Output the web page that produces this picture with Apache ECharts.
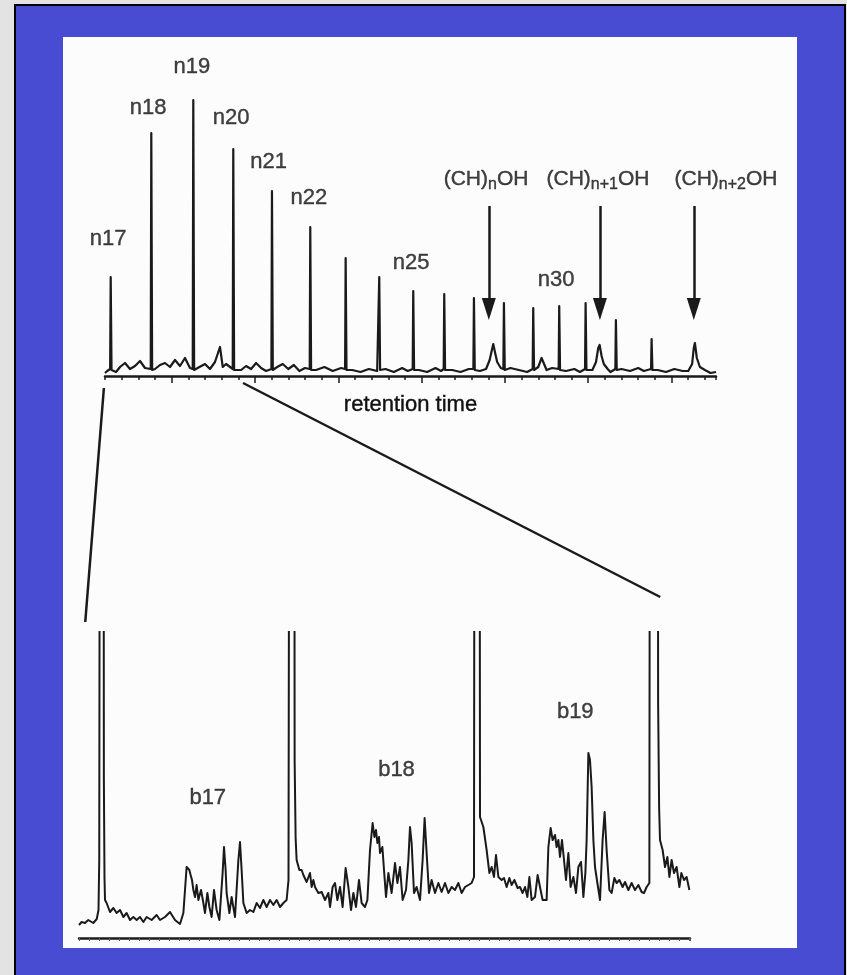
<!DOCTYPE html>
<html>
<head>
<meta charset="utf-8">
<title>retention time</title>
<script src="https://cdn.jsdelivr.net/npm/echarts@6.0.0/dist/echarts.min.js"></script>
<style>
  html, body { margin: 0; padding: 0; width: 847px; height: 975px; overflow: hidden; background: #e3e3e3; }
  #frame { position: absolute; left: 14px; top: 4px; width: 828px; height: 1000px; background: #474cd3; border: 2px solid #000; border-bottom: none; }
  #paper { position: absolute; left: 63px; top: 37px; width: 734px; height: 911px; background: #fcfcfc; }
  #main { position: absolute; left: 0; top: 0; width: 847px; height: 975px; }
</style>
</head>
<body>
<div id="frame"></div>
<div id="paper"></div>
<div id="main"></div>
<script>
// top chromatogram: retention time (s) vs detector signal (arbitrary units)
const topPeakTimes = [20.5, 166.7, 317.9, 461.9, 601.2, 739.1, 866.5, 987.5, 1109.9, 1221.5, 1328.4, 1436.4, 1541.9, 1635.5, 1730.5, 1839.6, 1968.1];
const topPeakHeights = [99, 243, 276, 227, 185, 149, 118, 99, 85, 82, 78, 73, 68, 70, 73, 56, 37];
// baseline noise and the three broad alcohol bumps
const topBaseline = [
  [0, 3], [8, 5], [14, 4], [30, 8], [40, 4], [54, 9], [72, 13], [90, 7], [108, 10], [126, 15], [144, 8],
  [180, 7], [198, 11], [216, 13], [234, 9], [252, 16], [270, 10], [288, 18], [306, 8], [340, 9], [360, 12],
  [378, 7], [396, 14], [414, 29], [424, 9], [436, 12], [470, 8], [490, 6], [508, 10], [526, 7], [544, 13],
  [562, 8], [580, 5], [620, 9], [640, 12], [660, 7], [680, 11], [700, 5], [720, 8], [760, 6], [790, 9],
  [820, 5], [850, 8], [890, 6], [920, 4], [950, 7], [980, 5], [1010, 7], [1040, 4], [1070, 8], [1090, 5],
  [1130, 6], [1160, 4], [1190, 8], [1210, 5], [1250, 6], [1280, 4], [1310, 7], [1350, 5],
  [1372, 7], [1385, 16], [1393, 26], [1398, 32], [1404, 24], [1412, 14], [1425, 8],
  [1460, 8], [1490, 6], [1520, 4], [1560, 9], [1572, 18], [1590, 6], [1610, 8], [1660, 5], [1690, 7],
  [1710, 4], [1755, 6], [1768, 14], [1776, 28], [1781, 31], [1788, 20], [1796, 12], [1810, 7],
  [1820, 4], [1860, 7], [1890, 5], [1920, 8], [1940, 5], [1990, 6], [2020, 4], [2050, 7], [2080, 5],
  [2100, 5], [2114, 12], [2120, 28], [2124, 33], [2131, 18], [2142, 9], [2160, 6], [2180, 3], [2200, 4]
];
const topMajorTicks = [240, 540, 840, 1140, 1440, 1740, 2040];

const topLabels = ['n17', 'n18', 'n19', 'n20', 'n21', 'n22', 'n25', 'n30'];
const topLabelTimes = [11, 155, 313, 454, 589, 734, 1102, 1624];
const topLabelLevels = [137, 268, 309, 258, 214, 178, 113, 96];

const alcoholSubs = ['n', 'n+1', 'n+2'];
const alcoholLabelTimes = [1372, 1775, 2236];
const alcoholLabelLevel = 195;
const arrowTimes = [1382, 1782, 2120];
const arrowFrom = 170;
const arrowTo = 67;

// expanded region (first ~490 s), same time units
const bottomTrace = [
  [0, 13], [2.1, 16], [4.8, 15], [7.4, 18], [11.4, 15], [14.2, 19], [15.6, 28], [16.2, 78],
  [16.8, 700], [19.6, 700], [19.9, 158], [20.4, 60], [20.8, 38],
  [22.1, 35], [24.8, 26], [27.5, 30], [30.1, 25], [32.8, 28], [35.5, 21], [38.1, 25], [40.8, 18], [43.5, 21],
  [46.1, 18], [48.8, 21], [51.5, 16], [54.1, 21], [58.1, 18], [62.1, 23], [64.8, 18], [68.8, 21], [72.8, 26],
  [76.8, 18], [80.8, 14], [83.5, 25],
  [86.1, 71], [88.3, 68], [89.3, 63], [90.4, 58], [91.5, 48], [92.8, 41], [94.1, 53], [95.5, 38], [97.6, 48],
  [99.5, 35], [100.8, 25], [102.7, 45], [104.3, 31], [106.1, 21], [108.0, 48], [110.1, 28], [112.3, 18],
  [114.9, 65], [116.0, 91], [117.3, 68], [118.1, 45], [120.3, 25], [122.1, 41], [124.8, 21], [127.5, 78],
  [128.8, 96], [130.1, 68], [131.5, 35], [134.1, 25], [136.8, 28], [139.5, 26], [142.1, 35], [144.8, 30],
  [147.5, 38], [150.1, 31], [152.8, 38], [155.5, 33], [158.1, 38], [160.8, 31], [163.5, 35], [166.1, 38], [167.6, 58],
  [168.4, 700], [172.2, 700], [172.5, 178], [173.3, 100], [174.1, 78], [176.3, 68], [178.1, 68], [179.5, 63],
  [182.1, 56], [184.8, 65], [186.1, 51], [187.5, 58], [188.8, 51], [191.5, 45], [194.1, 46], [196.8, 38],
  [199.5, 45], [200.8, 31], [202.9, 51], [204.8, 55], [206.7, 38], [208.8, 51], [210.9, 31], [213.3, 70],
  [215.5, 51], [217.6, 28], [219.5, 45], [221.6, 31], [224.0, 58], [226.1, 35], [228.8, 31], [230.7, 38],
  [232.8, 88], [234.9, 115], [236.3, 101], [237.6, 108], [238.7, 95], [240.0, 101], [240.8, 85], [242.7, 91],
  [244.0, 68], [245.6, 41], [247.5, 65], [250.1, 45], [252.8, 75], [254.7, 55], [256.8, 71], [258.9, 38],
  [261.6, 48], [263.5, 78], [264.8, 111], [266.1, 95], [268.0, 45], [270.1, 51], [272.8, 38], [274.9, 78],
  [276.5, 120], [278.1, 85], [280.0, 45], [282.1, 58], [284.8, 45], [287.5, 55], [290.1, 46], [292.8, 55],
  [295.5, 45], [298.1, 51], [300.8, 48], [303.5, 55], [306.1, 45], [308.8, 51], [311.5, 53], [314.1, 55], [316.0, 61],
  [316.5, 700], [320.4, 700], [320.8, 121], [323.5, 111], [326.1, 88], [328.3, 65], [330.1, 71], [332.0, 61],
  [333.6, 83], [335.5, 61], [338.1, 58], [340.0, 60], [342.1, 51], [344.3, 60], [346.1, 53], [348.3, 58],
  [350.9, 50], [352.8, 51], [354.9, 45], [356.8, 51], [358.7, 41], [360.3, 61], [362.1, 38], [364.8, 41],
  [366.9, 63], [368.8, 51], [370.9, 38], [374.1, 38], [375.5, 91], [377.3, 110], [378.9, 98], [380.8, 103],
  [382.1, 91], [383.5, 98], [384.8, 81], [386.4, 98], [388.0, 78], [389.6, 58], [391.5, 85], [393.3, 51],
  [395.5, 61], [397.6, 45], [399.5, 71], [401.6, 76], [403.5, 41], [405.1, 65], [406.1, 98], [407.5, 185],
  [408.8, 178], [410.1, 151], [411.5, 98], [412.8, 71], [414.7, 55], [416.8, 38], [418.9, 98], [420.5, 126],
  [422.1, 88], [424.3, 48], [426.1, 45], [428.3, 60], [430.1, 55], [432.3, 58], [434.9, 51], [436.8, 56],
  [439.5, 48], [442.1, 55], [444.8, 48], [447.5, 53], [450.1, 46], [452.0, 45], [454.1, 51], [456.3, 55],
  [456.8, 700], [463.0, 700], [463.3, 235], [464.1, 130], [464.8, 98], [466.9, 88], [468.8, 71], [470.7, 81],
  [472.3, 61], [474.1, 78], [476.0, 65], [478.1, 71], [480.3, 51], [481.9, 65], [484.0, 58], [486.1, 61], [488.3, 48]
];
const bottomLabels = ['b17', 'b18', 'b19'];
const bottomLabelTimes = [103, 254, 397];
const bottomLabelLevels = [140, 168, 226];

// zoom connector ends: top [time, level] -> bottom [time, level]
const zoomFrom = [[-4, -12], [497, -7]];
const zoomTo = [[5, 316], [465, 341]];

const INK = '#1a1a1a';
const TEXT = '#111';
const FONT = '"Liberation Sans", Arial, sans-serif';

function buildTopTrace() {
  const pts = topBaseline.slice();
  topPeakTimes.forEach(function (t, i) {
    pts.push([t - 2, 7], [t, topPeakHeights[i]], [t + 3, 6]);
  });
  return pts.sort(function (a, b) { return a[0] - b[0]; });
}

const chart = echarts.init(document.getElementById('main'), null, { renderer: 'canvas' });

const textLabel = {
  show: true,
  position: 'inside',
  color: TEXT,
  textBorderColor: TEXT,
  textBorderWidth: 0.4,
  fontFamily: FONT,
  fontSize: 22,
  formatter: '{b}'
};

const option = {
  animation: false,
  grid: [
    { left: 105, top: 46, width: 611, height: 330 },
    { left: 79, top: 632, width: 611, height: 306 }
  ],
  xAxis: [
    {
      gridIndex: 0, type: 'value', min: 0, max: 2200, interval: 60,
      axisLine: { lineStyle: { color: INK, width: 2.5 } },
      axisTick: { length: 4, lineStyle: { color: INK, width: 1.5 } },
      axisLabel: { show: false },
      splitLine: { show: false },
      name: 'retention time', nameLocation: 'middle', nameGap: 18,
      nameTextStyle: { color: TEXT, fontFamily: FONT, fontSize: 22, textBorderColor: TEXT, textBorderWidth: 0.4 }
    },
    {
      gridIndex: 0, type: 'value', min: 0, max: 2200, position: 'bottom',
      axisLine: { show: false },
      axisTick: { show: true, length: 7, customValues: topMajorTicks, lineStyle: { color: INK, width: 1.5 } },
      axisLabel: { show: false },
      splitLine: { show: false }
    },
    {
      gridIndex: 1, type: 'value', min: 0, max: 488.8, interval: 8,
      axisLine: { lineStyle: { color: INK, width: 2.5 } },
      axisTick: { length: 3, lineStyle: { color: '#555', width: 1 } },
      axisLabel: { show: false },
      splitLine: { show: false }
    }
  ],
  yAxis: [
    { gridIndex: 0, type: 'value', min: 0, max: 330, show: false },
    { gridIndex: 1, type: 'value', min: 0, max: 306, show: false }
  ],
  series: [
    {
      type: 'line', xAxisIndex: 0, yAxisIndex: 0,
      data: buildTopTrace(),
      showSymbol: false, symbol: 'none',
      lineStyle: { color: INK, width: 2.2, join: 'round' },
      markLine: {
        silent: true,
        symbol: ['none', 'triangle'],
        symbolSize: [14, 22],
        label: { show: false },
        lineStyle: { color: INK, width: 2.5, type: 'solid' },
        data: arrowTimes.map(function (t) {
          return [{ coord: [t, arrowFrom] }, { coord: [t, arrowTo] }];
        })
      }
    },
    {
      type: 'line', xAxisIndex: 2, yAxisIndex: 1,
      data: bottomTrace,
      showSymbol: false, symbol: 'none', clip: true,
      lineStyle: { color: INK, width: 2, join: 'round' }
    },
    {
      type: 'scatter', xAxisIndex: 0, yAxisIndex: 0, clip: false,
      symbolSize: 1, itemStyle: { color: 'rgba(0,0,0,0)' },
      label: textLabel,
      data: topLabels.map(function (s, i) {
        return { name: s, value: [topLabelTimes[i], topLabelLevels[i]] };
      })
    },
    {
      type: 'scatter', xAxisIndex: 0, yAxisIndex: 0, clip: false,
      symbolSize: 1, itemStyle: { color: 'rgba(0,0,0,0)' },
      label: {
        show: true,
        position: 'inside',
        formatter: function (p) { return '{m|(CH)}{s|' + p.name + '}{m|OH}'; },
        rich: {
          m: { color: TEXT, textBorderColor: TEXT, textBorderWidth: 0.4, fontFamily: FONT, fontSize: 21, lineHeight: 24, verticalAlign: 'top' },
          s: { color: TEXT, textBorderColor: TEXT, textBorderWidth: 0.4, fontFamily: FONT, fontSize: 16, lineHeight: 17, padding: [10, 0, 0, 0], verticalAlign: 'bottom' }
        }
      },
      data: alcoholSubs.map(function (s, i) {
        return { name: s, value: [alcoholLabelTimes[i], alcoholLabelLevel] };
      })
    },
    {
      type: 'scatter', xAxisIndex: 2, yAxisIndex: 1, clip: false,
      symbolSize: 1, itemStyle: { color: 'rgba(0,0,0,0)' },
      label: textLabel,
      data: bottomLabels.map(function (s, i) {
        return { name: s, value: [bottomLabelTimes[i], bottomLabelLevels[i]] };
      })
    }
  ]
};

chart.setOption(option);

// lines that tie the expanded window back to the full trace
const connectors = zoomFrom.map(function (p, i) {
  const a = chart.convertToPixel({ gridIndex: 0 }, p);
  const b = chart.convertToPixel({ gridIndex: 1 }, zoomTo[i]);
  return {
    type: 'line', silent: true,
    shape: { x1: a[0], y1: a[1], x2: b[0], y2: b[1] },
    style: { stroke: INK, lineWidth: 2.5 }
  };
});
chart.setOption({ graphic: connectors });
</script>
</body>
</html>
